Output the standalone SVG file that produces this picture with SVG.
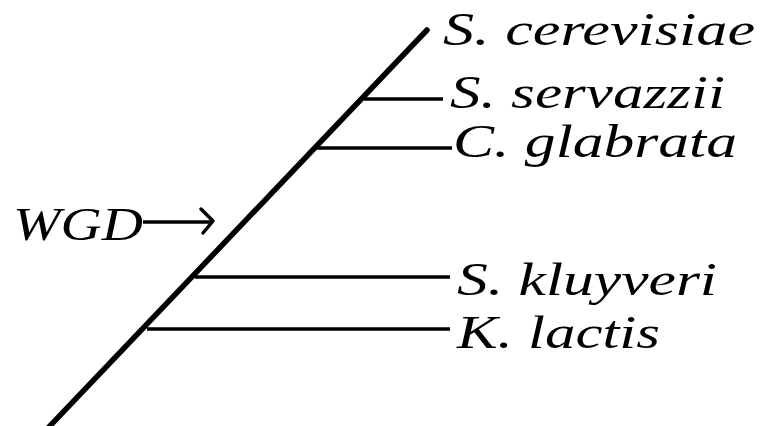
<svg xmlns="http://www.w3.org/2000/svg" width="760" height="426" viewBox="0 0 760 426">
<style>
.lbl{font-family:"Liberation Serif","Times New Roman",serif;font-style:italic;font-size:47px;fill:#000}
.br{stroke:#000;stroke-width:3.5;fill:none}
.trunk{stroke:#000;stroke-width:5.5;fill:none;stroke-linecap:round}
</style>
<rect width="760" height="426" fill="#fff"/>
<g id="connectors">
<line class="trunk" x1="48" y1="428" x2="427" y2="30"/>
<line class="br" x1="364" y1="99" x2="443" y2="99"/>
<line class="br" x1="317" y1="148" x2="452" y2="148"/>
<line class="br" x1="195" y1="277" x2="450" y2="277"/>
<line class="br" x1="147" y1="329" x2="450" y2="329"/>
<line class="br" x1="143" y1="222" x2="212" y2="222"/>
<path class="br" d="M201,209 L213,221 L203,233" stroke-linecap="round" stroke-linejoin="round"/>
</g>
<g id="n-cerevisiae"><text class="lbl" x="443" y="45" textLength="312" lengthAdjust="spacingAndGlyphs">S. cerevisiae</text></g>
<g id="n-servazzii"><text class="lbl" x="450" y="108" textLength="275" lengthAdjust="spacingAndGlyphs">S. servazzii</text></g>
<g id="n-glabrata"><text class="lbl" x="453" y="157" textLength="284" lengthAdjust="spacingAndGlyphs">C. glabrata</text></g>
<g id="n-kluyveri"><text class="lbl" x="457" y="295" textLength="260" lengthAdjust="spacingAndGlyphs">S. kluyveri</text></g>
<g id="n-lactis"><text class="lbl" x="457" y="348" textLength="203" lengthAdjust="spacingAndGlyphs">K. lactis</text></g>
<g id="n-wgd"><text class="lbl" x="13" y="240" textLength="130" lengthAdjust="spacingAndGlyphs">WGD</text></g>
</svg>
